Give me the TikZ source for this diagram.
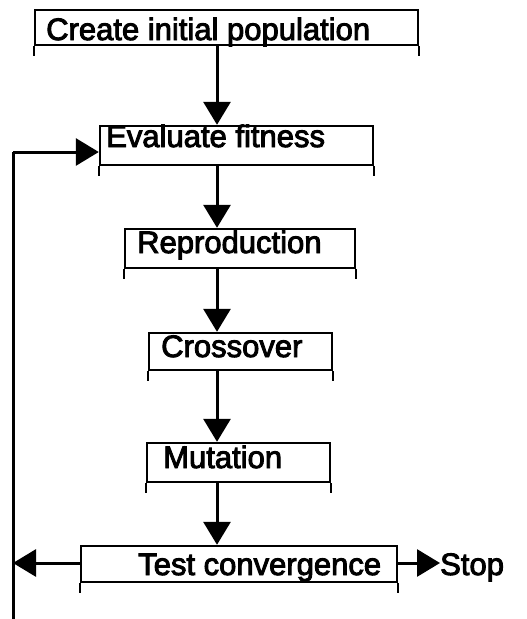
\documentclass[tikz,border=0pt]{standalone}
\usepackage{fontspec}
\setmainfont[FakeBold=3]{Liberation Sans}
\usetikzlibrary{arrows.meta}
\begin{document}
\begin{tikzpicture}[x=1pt,y=-1pt,
  boxstyle/.style={draw,line width=2.4pt,rectangle,inner sep=0pt},
  lbl/.style={anchor=base west,inner sep=0pt,font=\fontsize{31}{31}\selectfont},
  conn/.style={line width=3pt,-{Triangle[width=27pt,length=23pt]}},
  plain/.style={line width=3pt},
  tick/.style={line width=2.4pt}]
\useasboundingbox (0,0) rectangle (527,619);
\fill[white] (0,0) rectangle (527,619);
% boxes
\node[boxstyle,minimum width=383pt,minimum height=35pt] (b1) at (226.5,27.5) {};
\node[boxstyle,minimum width=273pt,minimum height=39pt] (b2) at (236.5,145.5) {};
\node[boxstyle,minimum width=230pt,minimum height=39pt] (b3) at (240,248.5) {};
\node[boxstyle,minimum width=183pt,minimum height=37pt] (b4) at (240.5,351.5) {};
\node[boxstyle,minimum width=183pt,minimum height=39pt] (b5) at (238.5,462.5) {};
\node[boxstyle,minimum width=316pt,minimum height=36pt] (b6) at (239,564) {};
% side ticks below boxes
\foreach \b in {b1,b2,b3,b4,b5,b6}{
  \draw[tick] (\b.south west) -- ++(0,10);
  \draw[tick] (\b.south east) -- ++(0,10);
}
% labels
\node[lbl] (t1) at (46,40) {Create initial population};
\node[lbl] (t2) at (106,147) {Evaluate fitness};
\node[lbl] (t3) at (137,253) {Reproduction};
\node[lbl] (t4) at (161,357) {Crossover};
\node[lbl] (t5) at (163,468) {Mutation};
\node[lbl] (t6) at (138,575) {Test convergence};
\node[lbl] (stop) at (440,575) {Stop};
% spine
\coordinate (spine) at (217,0);
\draw[conn] (b1.south -| spine) -- (b2.north -| spine);
\draw[conn] (b2.south -| spine) -- (b3.north -| spine);
\draw[conn] (b3.south -| spine) -- (b4.north -| spine);
\draw[conn] (b4.south -| spine) -- (b5.north -| spine);
\draw[conn] (b5.south -| spine) -- (b6.north -| spine);
% loop back
\coordinate (loopbot) at (13,619);
\coordinate (looptop) at (13,152);
\draw[plain] (loopbot) -- (looptop);
\draw[conn] (looptop) -- (b2.west |- looptop);
\coordinate (leftin) at (13,563);
\draw[conn] (b6.west |- leftin) -- (leftin);
\draw[conn] (b6.east |- leftin) -- (440,563);
\end{tikzpicture}
\end{document}
